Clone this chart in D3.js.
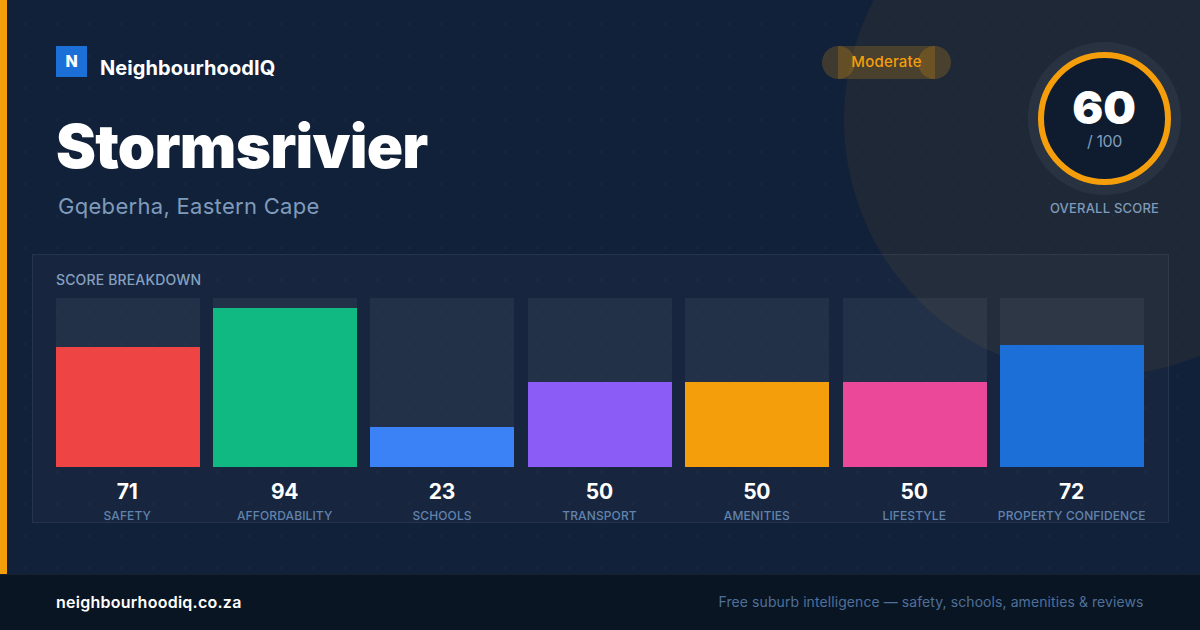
<!DOCTYPE html>
<html><head><meta charset="utf-8">
<style>html,body{margin:0;padding:0;background:#12213a;overflow:hidden}svg{display:block}text{font-family:Inter,sans-serif}</style>
<script src="https://cdn.jsdelivr.net/npm/d3@7"></script></head><body>
<script>
const categories=["SAFETY","AFFORDABILITY","SCHOOLS","TRANSPORT","AMENITIES","LIFESTYLE","PROPERTY CONFIDENCE"];
const scores=[71,94,23,50,50,50,72];
const barLevels=[71,94,23.6,50.3,50.3,50.3,72];
const barColors=["#ef4444","#10b981","#3b82f6","#8b5cf6","#f59e0b","#ec4899","#1d6fd8"];
const overallScore=60;
const suburb="Stormsrivier";
const region="Gqeberha, Eastern Cape";
const W=1200,H=630;
const svg=d3.select("body").append("svg").attr("width",W).attr("height",H);
const defs=svg.append("defs");
const pat=defs.append("pattern").attr("id","dots").attr("patternUnits","userSpaceOnUse").attr("width",32).attr("height",32);
pat.append("circle").attr("cx",25).attr("cy",24).attr("r",1).attr("fill","#fff").attr("fill-opacity",0.03);
svg.append("rect").attr("width",W).attr("height",H).attr("fill","#12213a");
svg.append("circle").attr("cx",1100).attr("cy",120).attr("r",256).attr("fill","#f59e0b").attr("fill-opacity",0.06);
svg.append("rect").attr("width",W).attr("height",H).attr("fill","url(#dots)");
svg.append("rect").attr("width",7).attr("height",574).attr("fill","#f59e0b");
// logo
svg.append("rect").attr("x",56).attr("y",46).attr("width",31).attr("height",31).attr("fill","#1d6fd8");
svg.append("text").attr("x",71.5).attr("y",67).attr("text-anchor","middle").attr("font-size",16).attr("font-weight",800).attr("fill","#fff").text("N");
svg.append("text").attr("x",100).attr("y",75).attr("font-size",20).attr("font-weight",700).attr("letter-spacing",0.07).attr("fill","#fff").text("NeighbourhoodIQ");
svg.append("text").attr("x",56).attr("y",168).attr("font-size",60).attr("font-weight",900).attr("letter-spacing",-0.75).attr("fill","#fff").text(suburb);
svg.append("text").attr("x",58).attr("y",214).attr("font-size",22).attr("letter-spacing",0.3).attr("fill","#7f9bbb").text(region);
// pill
const pill=svg.append("g").attr("fill","#f59e0b").attr("fill-opacity",0.2);
pill.append("rect").attr("x",838).attr("y",46).attr("width",97).attr("height",33);
pill.append("circle").attr("cx",838.5).attr("cy",62.5).attr("r",16.5);
pill.append("circle").attr("cx",934.5).attr("cy",62.5).attr("r",16.5);
svg.append("text").attr("x",886.5).attr("y",67).attr("text-anchor","middle").attr("font-size",15).attr("font-weight",500).attr("letter-spacing",0.2).attr("fill","#f59e0b").text("Moderate");
// ring
svg.append("circle").attr("cx",1104.5).attr("cy",118.5).attr("r",76.5).attr("fill","#fff").attr("fill-opacity",0.05);
svg.append("circle").attr("cx",1104.5).attr("cy",118.5).attr("r",63.5).attr("fill","#0f1c30").attr("stroke","#f59e0b").attr("stroke-width",6);
svg.append("text").attr("x",1104).attr("y",124).attr("text-anchor","middle").attr("font-size",46).attr("font-weight",900).attr("fill","#fff").text(overallScore);
svg.append("text").attr("x",1104.5).attr("y",147).attr("text-anchor","middle").attr("font-size",16).attr("letter-spacing",-0.4).attr("fill","#7f9bbb").text("/ 100");
svg.append("text").attr("x",1104.5).attr("y",213).attr("text-anchor","middle").attr("font-size",13).attr("font-weight",500).attr("letter-spacing",0.2).attr("fill","#7f9bbb").text("OVERALL SCORE");
// panel
svg.append("rect").attr("x",32.5).attr("y",254.5).attr("width",1136).attr("height",268).attr("fill","#fff").attr("fill-opacity",0.025).attr("stroke","#fff").attr("stroke-opacity",0.08);
svg.append("text").attr("x",56).attr("y",285).attr("font-size",14).attr("font-weight",500).attr("letter-spacing",0.15).attr("fill","#86a1c0").text("SCORE BREAKDOWN");
const x=d3.scaleBand().domain(categories).range([55.6,1144]).paddingInner(13.4/157.4);
const y=d3.scaleLinear().domain([0,100]).range([467,298]);
const g=svg.append("g").attr("shape-rendering","crispEdges");
g.selectAll(".track").data(categories).join("rect").attr("class","track").attr("x",d=>x(d)).attr("y",y(100)).attr("width",x.bandwidth()).attr("height",y(0)-y(100)).attr("fill","#fff").attr("fill-opacity",0.05);
g.selectAll(".bar").data(categories).join("rect").attr("class","bar").attr("x",d=>x(d)).attr("y",(d,i)=>y(barLevels[i])).attr("width",x.bandwidth()).attr("height",(d,i)=>y(0)-y(barLevels[i])).attr("fill",(d,i)=>barColors[i]);
const t=svg.append("g");
t.selectAll(".val").data(categories).join("text").attr("class","val").attr("x",d=>x(d)+x.bandwidth()/2-0.5).attr("y",499).attr("text-anchor","middle").attr("font-size",21).attr("font-weight",700).attr("letter-spacing",-0.3).attr("fill","#fff").text((d,i)=>scores[i]);
t.selectAll(".lab").data(categories).join("text").attr("class","lab").attr("x",d=>x(d)+x.bandwidth()/2-0.3).attr("y",520).attr("text-anchor","middle").attr("font-size",12).attr("font-weight",500).attr("letter-spacing",0.12).attr("fill","#6183ad").text(d=>d);
// footer
svg.append("rect").attr("y",574).attr("width",W).attr("height",56).attr("fill","#0a1524");
svg.append("rect").attr("y",574).attr("width",W).attr("height",1).attr("fill","#fff").attr("fill-opacity",0.05);
svg.append("text").attr("x",56).attr("y",608).attr("font-size",16).attr("font-weight",600).attr("letter-spacing",0.25).attr("fill","#fff").text("neighbourhoodiq.co.za");
svg.append("text").attr("x",1143.5).attr("y",607).attr("text-anchor","end").attr("font-size",14).attr("letter-spacing",0.08).attr("fill","#4f7099").text("Free suburb intelligence — safety, schools, amenities & reviews");
</script></body></html>
